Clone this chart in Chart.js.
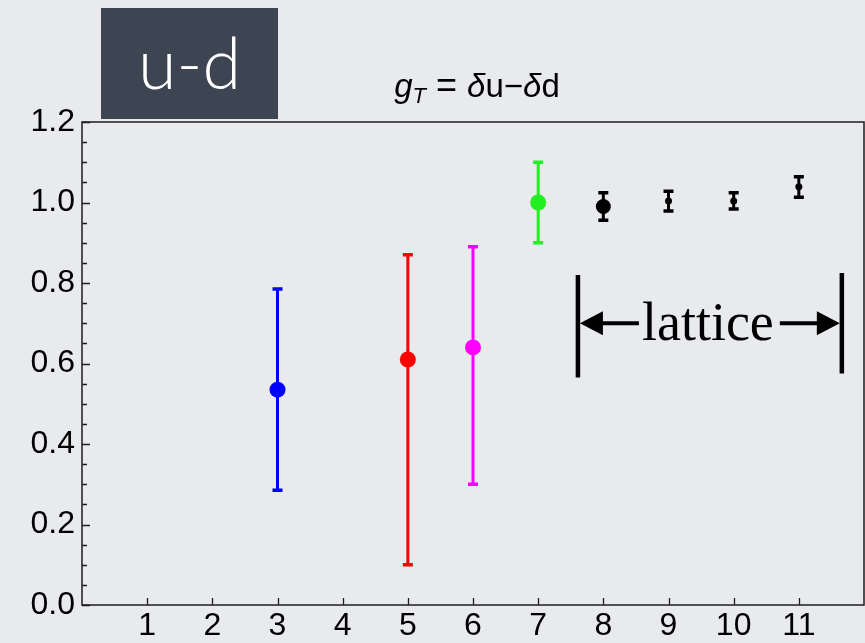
<!DOCTYPE html>
<html>
<head>
<meta charset="utf-8">
<script src="https://cdn.jsdelivr.net/npm/chart.js@4.4.0/dist/chart.umd.min.js"></script>
<style>
  html, body { margin: 0; padding: 0; background: #e8eaed; }
  #wrap { width: 865px; height: 643px; }
</style>
</head>
<body>
<div id="wrap"><canvas id="chart" width="865" height="643"></canvas></div>
<script>
// tensor charge estimates, one entry per column
const xPositions = [3, 5, 6, 7, 8, 9, 10, 11];
const centralValues = [0.535, 0.61, 0.64, 1.00, 0.99, 1.004, 1.004, 1.039];
const upperErrors = [0.25, 0.26, 0.25, 0.10, 0.034, 0.024, 0.02, 0.025];
const lowerErrors = [0.25, 0.51, 0.34, 0.10, 0.034, 0.025, 0.02, 0.026];

const xTickValues = [1, 2, 3, 4, 5, 6, 7, 8, 9, 10, 11];
const yTickValues = [0, 0.2, 0.4, 0.6, 0.8, 1.0, 1.2];

// span of the lattice bracket, in axis units
const latticeFrom = 7.61;
const latticeTo = 11.66;

const pointColors = ['#0000ff', '#ff0000', '#ff00ff', '#22ee22', '#000000', '#000000', '#000000', '#000000'];
const pointRadii = [8, 8, 8, 8, 7.5, 3.5, 3.5, 3.5];

const BG = '#e8eaed';
const AXIS = '#1e1e1e';

const bgPlugin = {
  id: 'bg',
  beforeDraw(chart) {
    const ctx = chart.ctx;
    ctx.save();
    ctx.fillStyle = BG;
    ctx.fillRect(0, 0, chart.width, chart.height);
    ctx.restore();
  }
};

// box frame with inward ticks
const framePlugin = {
  id: 'frame',
  beforeDatasetsDraw(chart) {
    const { ctx, chartArea: a, scales: { x, y } } = chart;
    ctx.save();
    ctx.strokeStyle = AXIS;
    ctx.lineWidth = 1.5;
    ctx.strokeRect(a.left, a.top, a.right - a.left, a.bottom - a.top);

    ctx.lineWidth = 1.3;
    ctx.beginPath();
    yTickValues.forEach((v, i) => {
      const py = Math.round(y.getPixelForValue(v)) + 0.5;
      ctx.moveTo(a.left, py);
      ctx.lineTo(a.left + 8, py);
      if (i < yTickValues.length - 1) {
        for (let k = 1; k < 4; k++) {
          const my = Math.round(y.getPixelForValue(v + k * 0.05)) + 0.5;
          ctx.moveTo(a.left, my);
          ctx.lineTo(a.left + 5, my);
        }
      }
    });
    xTickValues.forEach(v => {
      const px = Math.round(x.getPixelForValue(v)) + 0.5;
      ctx.moveTo(px, a.bottom);
      ctx.lineTo(px, a.bottom - 7);
    });
    ctx.stroke();
    ctx.restore();
  }
};

// vertical error bars with flat caps
const errorBarPlugin = {
  id: 'errorBars',
  beforeDatasetsDraw(chart) {
    const { ctx, scales: { x, y } } = chart;
    ctx.save();
    xPositions.forEach((xv, i) => {
      const px = x.getPixelForValue(xv);
      const top = y.getPixelForValue(centralValues[i] + upperErrors[i]);
      const bot = y.getPixelForValue(centralValues[i] - lowerErrors[i]);
      ctx.strokeStyle = pointColors[i];
      ctx.lineWidth = 3;
      ctx.beginPath();
      ctx.moveTo(px, top);
      ctx.lineTo(px, bot);
      ctx.stroke();
      ctx.lineWidth = 3.5;
      ctx.beginPath();
      ctx.moveTo(px - 5, top);
      ctx.lineTo(px + 5, top);
      ctx.moveTo(px - 5, bot);
      ctx.lineTo(px + 5, bot);
      ctx.stroke();
    });
    ctx.restore();
  }
};

// title, u-d badge and lattice bracket
const decorPlugin = {
  id: 'decor',
  afterDraw(chart) {
    const { ctx, chartArea: a, scales: { x, y } } = chart;
    ctx.save();

    // badge
    ctx.fillStyle = '#3e4552';
    ctx.fillRect(101, 8, 177, 111);
    ctx.fillStyle = '#ffffff';
    ctx.font = '300 70px Lato, "Open Sans", sans-serif';
    ctx.textAlign = 'center';
    ctx.textBaseline = 'alphabetic';
    ctx.fillText('u-d', 189.5, 89);

    // title with mixed italic runs
    const sans = '"Liberation Sans", Arial, sans-serif';
    const runs = [
      { t: 'g', f: 'italic 33px ' + sans, dy: 0 },
      { t: 'T', f: 'italic 22px ' + sans, dy: 6 },
      { t: ' = ', f: '36px ' + sans, dy: 0 },
      { t: 'δ', f: 'italic 33px ' + sans, dy: 0 },
      { t: 'u\u2212', f: '33px ' + sans, dy: 0 },
      { t: 'δ', f: 'italic 33px ' + sans, dy: 0 },
      { t: 'd', f: '33px ' + sans, dy: 0 }
    ];
    let total = 0;
    runs.forEach(r => { ctx.font = r.f; r.w = ctx.measureText(r.t).width; total += r.w; });
    let tx = (a.left + a.right) / 2 + 4 - total / 2;
    ctx.fillStyle = '#000';
    ctx.textAlign = 'left';
    runs.forEach(r => { ctx.font = r.f; ctx.fillText(r.t, tx, 97 + r.dy); tx += r.w; });

    // lattice bracket
    const lx = x.getPixelForValue(latticeFrom);
    const rx = x.getPixelForValue(latticeTo);
    const yTop = y.getPixelForValue(0.82);
    const yBot = y.getPixelForValue(0.565);
    const ym = y.getPixelForValue(0.70);
    ctx.strokeStyle = '#000';
    ctx.fillStyle = '#000';
    ctx.lineWidth = 4.5;
    ctx.beginPath();
    ctx.moveTo(lx, yTop); ctx.lineTo(lx, yBot);
    ctx.moveTo(rx, yTop - 2); ctx.lineTo(rx, yBot - 4);
    ctx.stroke();

    ctx.font = '54px "Liberation Serif", "DejaVu Serif", serif';
    ctx.textBaseline = 'alphabetic';
    const word = 'lattice';
    const ww = ctx.measureText(word).width;
    const cx = (lx + rx) / 2 - 2;
    const wl = cx - ww / 2, wr = cx + ww / 2;
    ctx.fillText(word, wl, ym + 17);

    ctx.lineWidth = 4;
    ctx.beginPath();
    ctx.moveTo(lx + 18, ym); ctx.lineTo(wl - 3, ym);
    ctx.moveTo(wr + 6, ym); ctx.lineTo(rx - 18, ym);
    ctx.stroke();
    ctx.beginPath();
    ctx.moveTo(lx + 2, ym); ctx.lineTo(lx + 25, ym - 12); ctx.lineTo(lx + 25, ym + 12); ctx.closePath();
    ctx.moveTo(rx - 2, ym); ctx.lineTo(rx - 25, ym - 12); ctx.lineTo(rx - 25, ym + 12); ctx.closePath();
    ctx.fill();

    ctx.restore();
  }
};

const tickFont = { family: '"Liberation Sans", Arial, sans-serif', size: 32 };

new Chart(document.getElementById('chart'), {
  type: 'scatter',
  data: {
    datasets: [{
      data: xPositions.map((xv, i) => ({ x: xv, y: centralValues[i] })),
      backgroundColor: pointColors,
      borderColor: pointColors,
      pointRadius: pointRadii,
      pointBorderWidth: 0,
      pointHoverRadius: pointRadii
    }]
  },
  options: {
    responsive: false,
    animation: false,
    layout: { autoPadding: false, padding: { top: 122, right: 1, left: 0, bottom: 0 } },
    plugins: { legend: { display: false }, tooltip: { enabled: false } },
    scales: {
      x: {
        type: 'linear',
        min: 0,
        max: 12,
        afterFit(scale) {
          scale.height = 38;
          scale.paddingLeft = 0;
          scale.paddingRight = 0;
        },
        afterBuildTicks(scale) { scale.ticks = xTickValues.map(v => ({ value: v })); },
        grid: { display: false, drawTicks: false },
        border: { display: false },
        ticks: { color: '#000', font: tickFont, padding: 2, autoSkip: false, maxRotation: 0 }
      },
      y: {
        type: 'linear',
        min: 0,
        max: 1.2,
        afterFit(scale) {
          scale.width = 82;
          scale.paddingTop = 0;
          scale.paddingBottom = 0;
        },
        afterBuildTicks(scale) { scale.ticks = yTickValues.map(v => ({ value: v })); },
        grid: { display: false, drawTicks: false },
        border: { display: false },
        ticks: {
          color: '#000', font: tickFont, padding: 7,
          callback: v => v.toFixed(1)
        }
      }
    }
  },
  plugins: [bgPlugin, framePlugin, errorBarPlugin, decorPlugin]
});
</script>
</body>
</html>
